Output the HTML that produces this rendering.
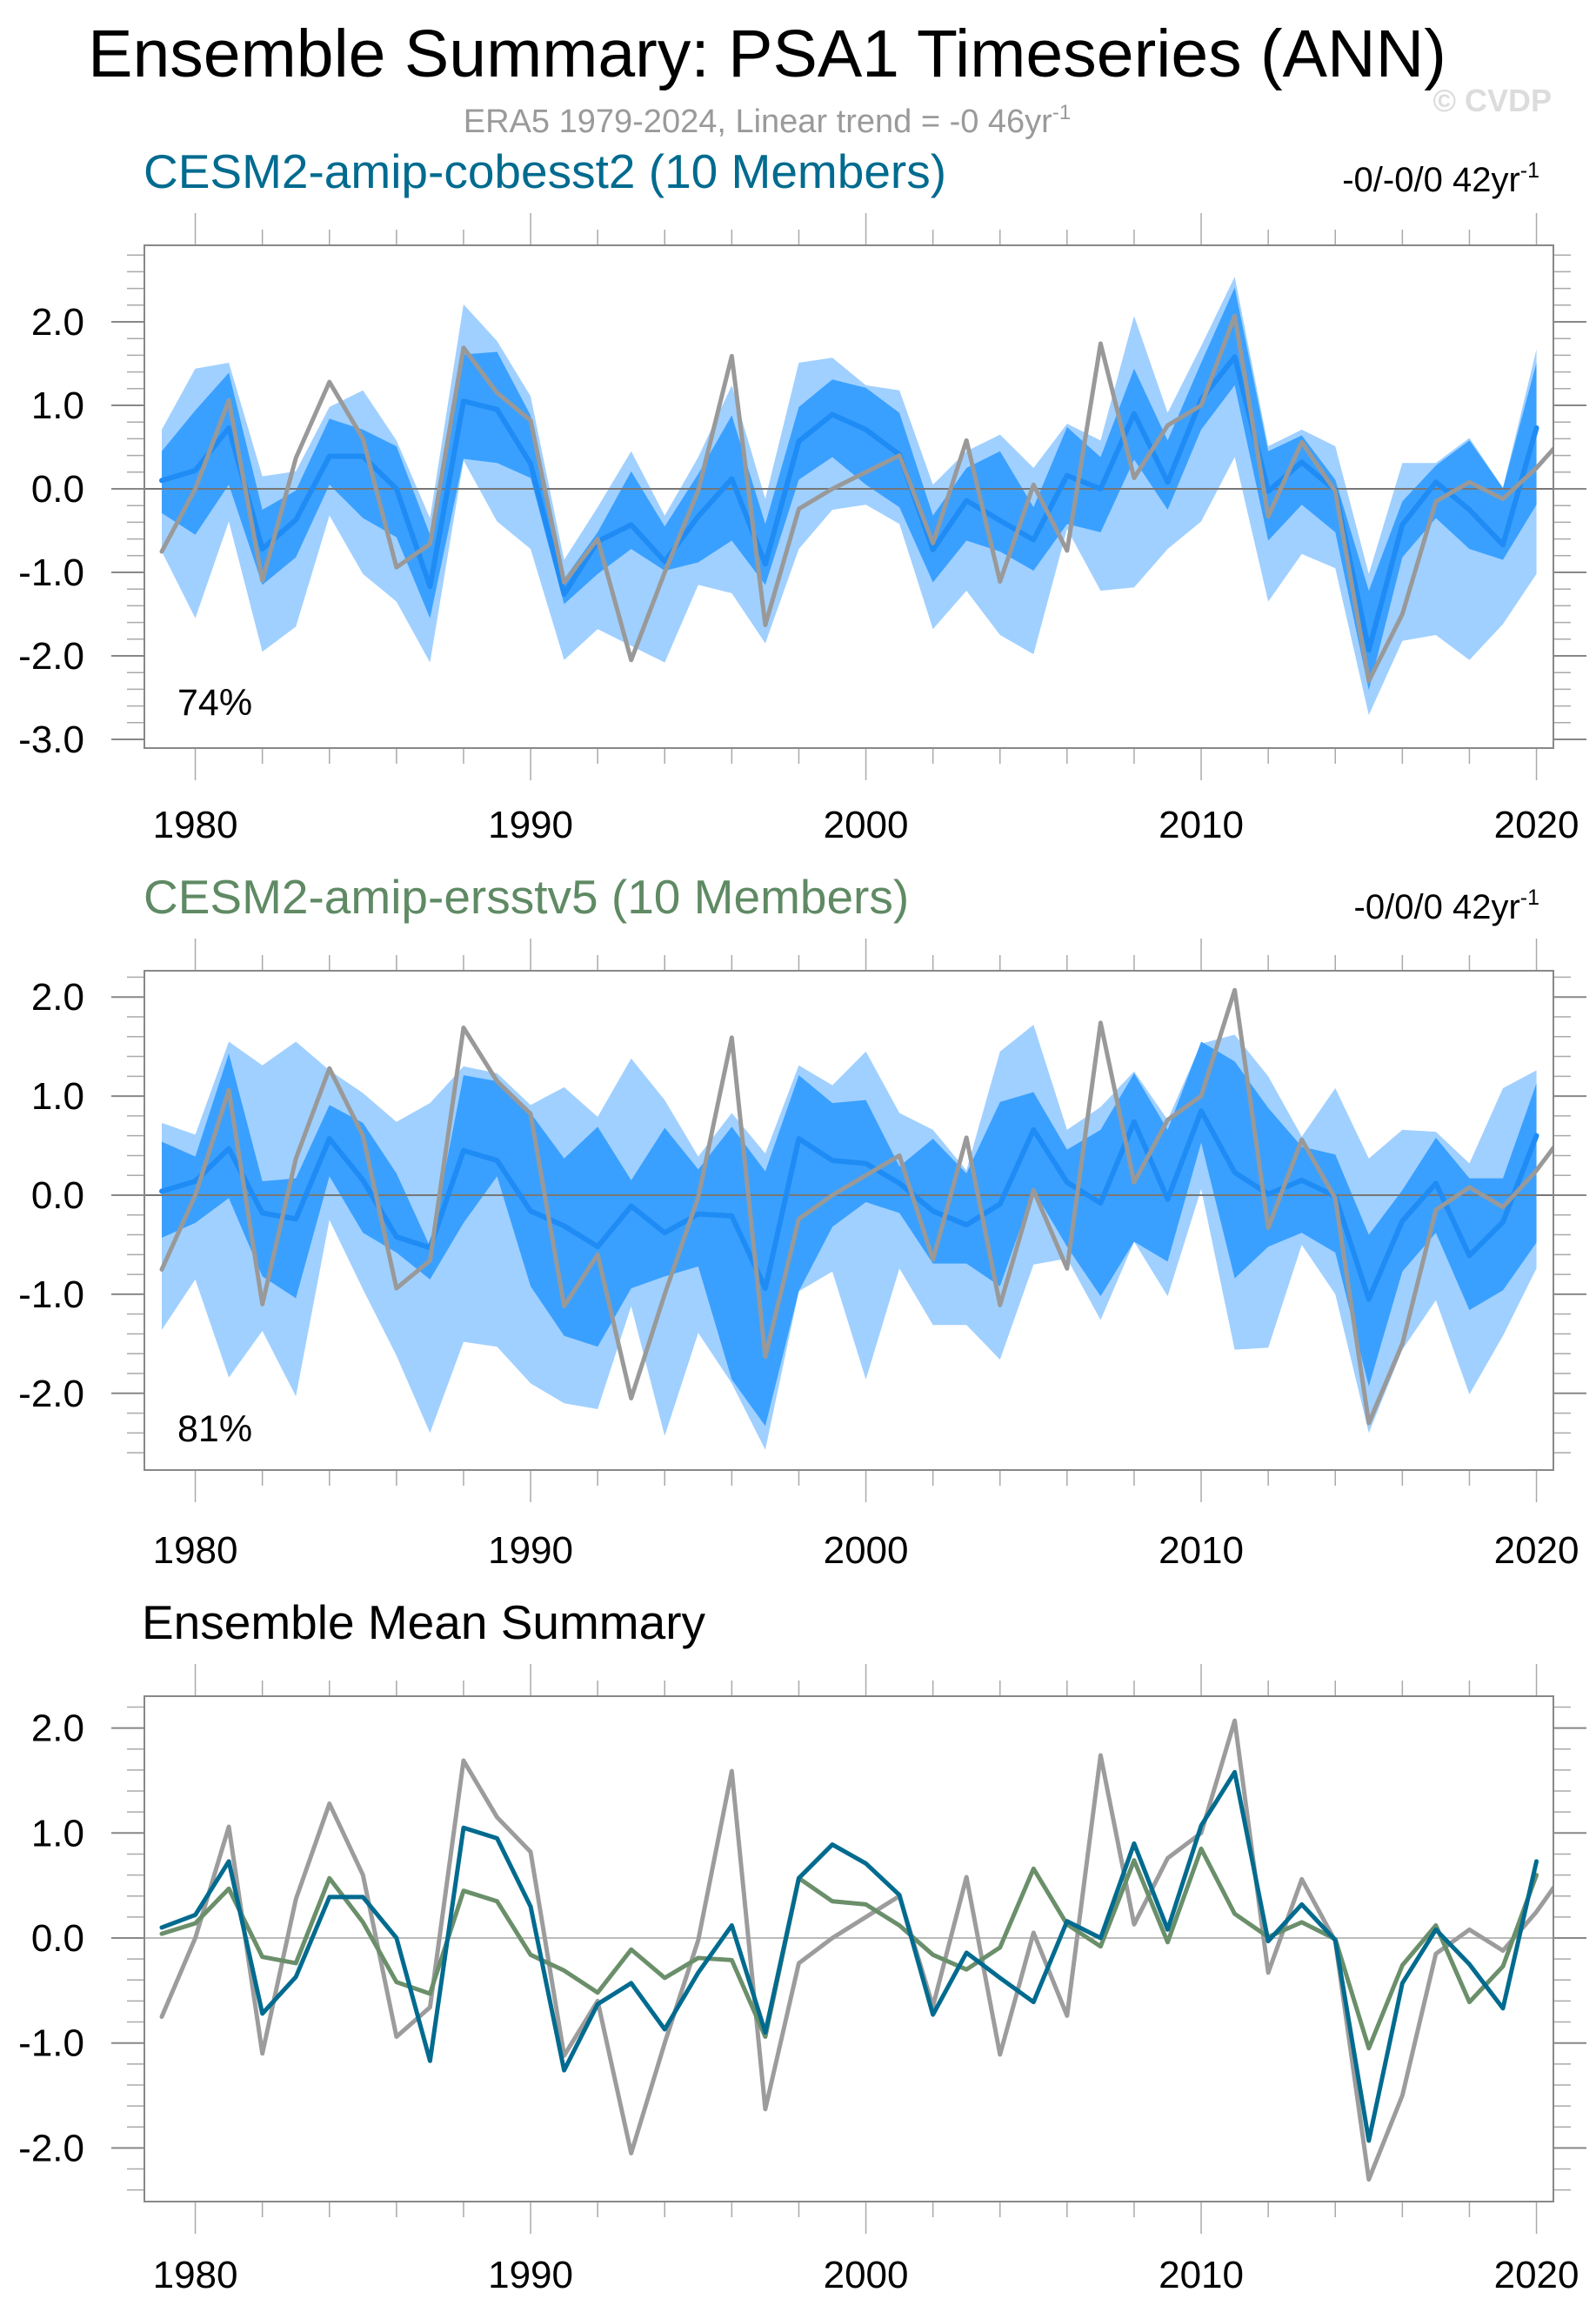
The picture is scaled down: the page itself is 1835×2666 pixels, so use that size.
<!DOCTYPE html>
<html><head><meta charset="utf-8">
<style>
html,body{margin:0;padding:0;background:#fff;}
svg{display:block;font-family:"Liberation Sans",sans-serif;}
</style></head>
<body>
<svg id="chart" width="1835" height="2666" viewBox="0 0 1835 2666" xmlns="http://www.w3.org/2000/svg">
<text x="882" y="88" font-size="77" text-anchor="middle" fill="#000">Ensemble Summary: PSA1 Timeseries (ANN)</text>
<text x="882" y="152" font-size="38" text-anchor="middle" fill="#9a9a9a">ERA5 1979-2024, Linear trend = -0 46yr<tspan dy="-15" font-size="24">-1</tspan></text>
<text x="1784" y="128" font-size="36" font-weight="bold" text-anchor="end" fill="#dcdcdc">© CVDP</text>
<text x="165" y="216" font-size="55" fill="#006b8f">CESM2-amip-cobesst2 (10 Members)</text>
<text x="1770" y="220" font-size="40" text-anchor="end" fill="#000">-0/-0/0 42yr<tspan dy="-16" font-size="25">-1</tspan></text>
<text x="165" y="1050" font-size="55" fill="#5f8a64">CESM2-amip-ersstv5 (10 Members)</text>
<text x="1770" y="1056" font-size="40" text-anchor="end" fill="#000">-0/0/0 42yr<tspan dy="-16" font-size="25">-1</tspan></text>
<text x="163" y="1884" font-size="55" fill="#000">Ensemble Mean Summary</text>
</svg>
<script>
const years = [1979,1980,1981,1982,1983,1984,1985,1986,1987,1988,1989,1990,1991,1992,1993,1994,1995,1996,1997,1998,1999,2000,2001,2002,2003,2004,2005,2006,2007,2008,2009,2010,2011,2012,2013,2014,2015,2016,2017,2018,2019,2020];
const obsYears = [1979,1980,1981,1982,1983,1984,1985,1986,1987,1988,1989,1990,1991,1992,1993,1994,1995,1996,1997,1998,1999,2000,2001,2002,2003,2004,2005,2006,2007,2008,2009,2010,2011,2012,2013,2014,2015,2016,2017,2018,2019,2020,2021,2022,2023,2024];
const obsValues = [-0.75,0.0,1.06,-1.1,0.37,1.28,0.6,-0.94,-0.66,1.69,1.15,0.82,-1.12,-0.6,-2.05,-1.0,-0.02,1.59,-1.63,-0.24,0.0,0.2,0.4,-0.65,0.58,-1.11,0.05,-0.74,1.74,0.13,0.76,1.0,2.07,-0.33,0.56,-0.03,-2.3,-1.5,-0.15,0.08,-0.12,0.25,0.7,0.3,0.0,0.1];
const meanCobe = [0.1,0.22,0.73,-0.72,-0.37,0.39,0.39,0.0,-1.17,1.05,0.95,0.3,-1.26,-0.63,-0.43,-0.87,-0.33,0.12,-0.9,0.57,0.89,0.71,0.41,-0.73,-0.14,-0.38,-0.61,0.16,0.0,0.9,0.08,1.07,1.58,-0.03,0.32,-0.02,-1.93,-0.43,0.08,-0.25,-0.67,0.73];
const meanErsst = [0.04,0.14,0.47,-0.18,-0.24,0.57,0.15,-0.42,-0.53,0.45,0.35,-0.16,-0.31,-0.52,-0.11,-0.38,-0.19,-0.21,-0.94,0.57,0.35,0.32,0.12,-0.16,-0.3,-0.09,0.66,0.13,-0.08,0.74,-0.04,0.85,0.23,0.01,0.15,-0.01,-1.05,-0.26,0.12,-0.61,-0.27,0.6];
const cobeMax = [0.71,1.44,1.51,0.15,0.21,0.98,1.18,0.58,-0.35,2.21,1.77,1.11,-0.85,-0.22,0.45,-0.32,0.38,1.24,-0.12,1.51,1.57,1.24,1.18,0.05,0.45,0.65,0.25,0.78,0.58,2.07,0.91,1.71,2.54,0.51,0.71,0.51,-1.02,0.31,0.31,0.61,0.01,1.67];
const cobeHi = [0.45,0.94,1.39,-0.25,-0.02,0.84,0.71,0.51,-0.55,1.61,1.64,0.88,-1.08,-0.52,0.21,-0.45,0.18,0.88,-0.42,0.98,1.31,1.21,0.91,-0.32,0.25,0.45,-0.22,0.74,0.38,1.44,0.58,1.51,2.41,0.45,0.64,0.11,-1.22,-0.15,0.28,0.58,0.01,1.51];
const cobeLo = [-0.29,-0.55,0.05,-1.15,-0.82,0.05,-0.35,-0.58,-1.55,0.36,0.31,0.13,-1.38,-1.02,-0.72,-0.98,-0.88,-0.62,-1.15,0.11,0.38,0.05,-0.22,-1.12,-0.62,-0.75,-0.98,-0.42,-0.52,0.35,-0.25,0.71,1.24,-0.62,-0.19,-0.52,-2.41,-0.82,-0.35,-0.72,-0.85,-0.19];
const cobeMin = [-0.75,-1.55,-0.39,-1.95,-1.65,-0.32,-1.02,-1.35,-2.08,0.34,-0.39,-0.72,-2.05,-1.68,-1.88,-2.08,-1.15,-1.25,-1.85,-0.72,-0.25,-0.19,-0.42,-1.68,-1.22,-1.75,-1.98,-0.48,-1.22,-1.18,-0.72,-0.39,0.38,-1.35,-0.78,-0.95,-2.71,-1.82,-1.75,-2.05,-1.62,-1.02];
const ersMax = [0.73,0.61,1.55,1.31,1.55,1.26,1.03,0.74,0.93,1.30,1.23,0.91,1.09,0.79,1.38,0.96,0.39,0.83,0.42,1.31,1.11,1.45,0.83,0.66,0.25,1.45,1.72,0.66,0.89,1.25,0.76,1.53,1.62,1.20,0.59,1.08,0.37,0.66,0.64,0.32,1.08,1.26];
const ersHi = [0.54,0.39,1.43,0.14,0.17,0.91,0.73,0.22,-0.52,1.21,1.15,0.83,0.37,0.69,0.15,0.68,0.26,0.69,0.24,1.21,0.93,0.96,0.29,0.57,0.22,0.94,1.04,0.46,0.66,1.23,0.66,1.55,1.35,0.88,0.49,0.41,-0.40,0.05,0.58,0.17,0.17,1.13];
const ersLo = [-0.43,-0.28,-0.03,-0.82,-1.04,0.19,-0.38,-0.58,-0.85,-0.28,0.19,-0.92,-1.42,-1.53,-0.94,-0.82,-0.72,-1.86,-2.33,-0.97,-0.32,-0.07,-0.18,-0.69,-0.69,-0.92,0.05,-0.52,-1.02,-0.47,-0.67,0.53,-0.84,-0.52,-0.38,-0.58,-1.93,-0.77,-0.38,-1.16,-0.96,-0.48];
const ersMin = [-1.36,-0.85,-1.84,-1.37,-2.03,-0.25,-0.95,-1.62,-2.40,-1.48,-1.53,-1.90,-2.10,-2.16,-1.12,-2.43,-1.39,-1.90,-2.57,-0.97,-0.77,-1.86,-0.74,-1.31,-1.31,-1.66,-0.70,-0.64,-1.26,-0.47,-1.02,0.06,-1.56,-1.54,-0.50,-1.00,-2.40,-1.56,-1.06,-2.01,-1.42,-0.74];
const yTicks1 = ["2.0","1.0","0.0","-1.0","-2.0","-3.0"];
const yTicks2 = ["2.0","1.0","0.0","-1.0","-2.0"];
const yTicks3 = ["2.0","1.0","0.0","-1.0","-2.0"];
const xTickLabels = ["1980","1990","2000","2010","2020"];

const NS = "http://www.w3.org/2000/svg";
const svg = document.getElementById("chart");
function mk(tag, attrs, parent){const e=document.createElementNS(NS,tag);for(const k in attrs)e.setAttribute(k,attrs[k]);(parent||svg).appendChild(e);return e;}

const X0=166, X1=1786;
function xs(y){return 186 + (y-1979)*38.55;}

function panel(p){
  const g = mk("g",{});
  
  
  const ys = v => p.zero - v*p.unit;
  const top=p.top, bot=p.bot;
  const clipId = p.name+"-clip";
  const cp = mk("clipPath",{id:clipId},g);
  mk("rect",{x:X0,y:top,width:X1-X0,height:bot-top},cp);
  const vTop=(p.zero-top)/p.unit, vBot=(p.zero-bot)/p.unit;
  for(let k=Math.ceil(vBot*5);k<=Math.floor(vTop*5);k++){
    const v=k/5, yy=ys(v), major=(k%5===0);
    const L=major?38:20;
    const t1=mk("line",{x1:X0-L,y1:yy,x2:X0,y2:yy,stroke:major?"#888":"#aaa","stroke-width":major?2:1.5},g);
    
    
    const t2=mk("line",{x1:X1,y1:yy,x2:X1+L,y2:yy,stroke:major?"#888":"#aaa","stroke-width":major?2:1.5},g);
    
    
  }
  p.yLabels.forEach(s=>{
    const t=mk("text",{x:97,y:ys(parseFloat(s))+15,"font-size":44,"text-anchor":"end",fill:"#000"},g);
    t.textContent=s;
    
    
  });
  for(let yr=1980; yr<=2020; yr+=2){
    const major=(yr%10===0), L=major?37:18, xx=xs(yr);
    const a=mk("line",{x1:xx,y1:top-L,x2:xx,y2:top,stroke:"#aaa","stroke-width":1.5},g);
    
    
    const b=mk("line",{x1:xx,y1:bot,x2:xx,y2:bot+L,stroke:"#aaa","stroke-width":1.5},g);
    
    
  }
  xTickLabels.forEach(s=>{
    const t=mk("text",{x:xs(parseInt(s)),y:p.xLabelY,"font-size":44,"text-anchor":"middle",fill:"#000"},g);
    t.textContent=s;
    
    
  });
  const plot=mk("g",{"clip-path":"url(#"+clipId+")"},g);
  function band(lo,hi,col,name){
    let d="M";
    years.forEach((y,i)=>{d+=xs(y)+","+ys(hi[i])+" L";});
    for(let i=years.length-1;i>=0;i--){d+=xs(years[i])+","+ys(lo[i])+(i>0?" L":" Z");}
    const e=mk("path",{d:d,fill:col,stroke:"none"},plot);
    
    
  }
  function line(xv,yv,col,w,name){
    const pts=xv.map((y,i)=>xs(y)+","+ys(yv[i])).join(" ");
    const e=mk("polyline",{points:pts,fill:"none",stroke:col,"stroke-width":w,"stroke-linejoin":"round","stroke-linecap":"round"},plot);
    
    
  }
  if(p.bands){
    band(p.bands[0],p.bands[1],"#a0d0ff","ensemble-range-band");
    band(p.bands[2],p.bands[3],"#3aa0ff","ensemble-iqr-band");
  }
  const z=mk("line",{x1:X0,y1:ys(0),x2:X1,y2:ys(0),stroke:p.bands?"#777":"#bbb","stroke-width":2},plot);
  
  
  if(p.bands){
    line(years,p.mean,"#1f8cf5",6,"ensemble-mean-line");
    line(obsYears,obsValues,"#999",5,"observed-line");
  } else {
    line(obsYears,obsValues,"#9c9c9c",5,"observed-line");
    line(years,meanErsst,"#6a8f6a",5,"ersstv5-mean-line");
    line(years,meanCobe,"#006b8f",5,"cobesst2-mean-line");
  }
  const box=mk("rect",{x:X0,y:top,width:X1-X0,height:bot-top,fill:"none",stroke:"#888","stroke-width":2},g);
  
  
  if(p.pct){
    const t=mk("text",{x:204,y:p.pctY,"font-size":43,fill:"#000"},g);
    t.textContent=p.pct;
    
    
  }
}
panel({name:"panel-cobesst2",top:282,bot:860,zero:562,unit:96,yLabels:yTicks1,xLabelY:963,bands:[cobeMin,cobeMax,cobeLo,cobeHi],mean:meanCobe,pct:"74%",pctY:822});
panel({name:"panel-ersstv5",top:1116,bot:1690,zero:1374,unit:113.9,yLabels:yTicks2,xLabelY:1797,bands:[ersMin,ersMax,ersLo,ersHi],mean:meanErsst,pct:"81%",pctY:1657});
panel({name:"panel-ensemble-mean",top:1950,bot:2531,zero:2228,unit:120.7,yLabels:yTicks3,xLabelY:2630});
</script>
</body></html>
